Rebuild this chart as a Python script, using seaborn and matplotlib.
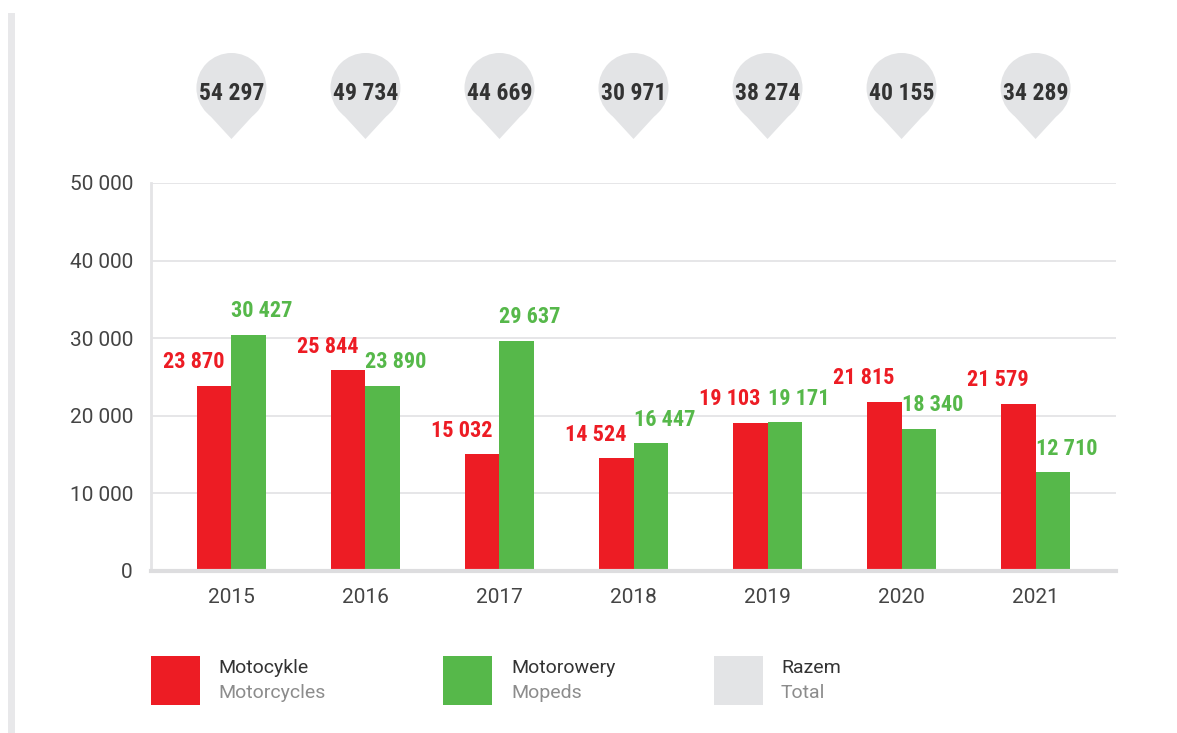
import matplotlib
matplotlib.use("Agg")
import matplotlib.pyplot as plt
from matplotlib import font_manager
from matplotlib.patches import Rectangle, Circle, Polygon
import seaborn as sns
import pandas as pd

# Data
years = ["2015", "2016", "2017", "2018", "2019", "2020", "2021"]
motorcycles = [23870, 25844, 15032, 14524, 19103, 21815, 21579]
mopeds = [30427, 23890, 29637, 16447, 19171, 18340, 12710]
totals = [54297, 49734, 44669, 30971, 38274, 40155, 34289]
y_ticks = [0, 10000, 20000, 30000, 40000, 50000]

legend_pl = ["Motocykle", "Motorowery", "Razem"]
legend_en = ["Motorcycles", "Mopeds", "Total"]

RED = "#ed1c24"
GREEN = "#56b84a"
BUBBLE = "#e3e4e6"
GRID = "#e4e4e6"
DARK = "#333333"
MUTED = "#8c8c8c"


def pick(cands):
    for c in cands:
        try:
            font_manager.findfont(font_manager.FontProperties(family=c),
                                  fallback_to_default=False)
            return c
        except Exception:
            pass
    return "DejaVu Sans"


NARROW = pick(["Roboto Condensed", "Liberation Sans Narrow", "Roboto"])
BODY = pick(["Roboto", "Lato", "DejaVu Sans"])


def fmt(v):
    return f"{v:,}".replace(",", " ")


df = pd.DataFrame({
    "year": years * 2,
    "value": motorcycles + mopeds,
    "type": ["Motocykle"] * len(years) + ["Motorowery"] * len(years),
})

sns.set_theme(style="white")
plt.rcParams["font.family"] = [BODY, "DejaVu Sans"]

W, H = 1177, 733
fig = plt.figure(figsize=(W / 100, H / 100), dpi=100)
ax = fig.add_axes([151 / W, 1 - 571 / H, (1116 - 151) / W, (571 - 183) / H])

sns.barplot(data=df, x="year", y="value", hue="type",
            palette=[RED, GREEN], width=0.51, gap=0, saturation=1,
            legend=False, ax=ax, edgecolor="none", linewidth=0)

ax.set_xlim(-0.6, len(years) - 0.4)
ax.set_ylim(0, 50000)
ax.set_yticks(y_ticks)
ax.set_yticklabels([fmt(v) for v in y_ticks], fontsize=15, color="#444444")
ax.set_xticks(range(len(years)))
ax.set_xticklabels(years, fontsize=15, color="#444444")
ax.set_xlabel("")
ax.set_ylabel("")
ax.tick_params(axis="y", length=0, pad=13)
ax.tick_params(axis="x", length=0, pad=12)
ax.yaxis.grid(True, color=GRID, linewidth=1.3)
ax.set_axisbelow(True)
for side in ["top", "right"]:
    ax.spines[side].set_visible(False)
ax.spines["left"].set_color(GRID)
ax.spines["left"].set_linewidth(2)
ax.spines["bottom"].set_color("#dddddf")
ax.spines["bottom"].set_linewidth(3)
ax.spines["bottom"].set_zorder(5)

# Value labels above bars
red_bars, green_bars = ax.containers[0], ax.containers[1]
for bar, v in zip(red_bars, motorcycles):
    ax.annotate(fmt(v), (bar.get_x() + bar.get_width(), bar.get_height()),
                xytext=(-5, 17), textcoords="offset points",
                ha="right", va="center", fontsize=16, fontweight="bold",
                color=RED, family=[NARROW, "DejaVu Sans"])
for bar, v in zip(green_bars, mopeds):
    ax.annotate(fmt(v), (bar.get_x(), bar.get_height()),
                xytext=(0, 17), textcoords="offset points",
                ha="left", va="center", fontsize=16, fontweight="bold",
                color=GREEN, family=[NARROW, "DejaVu Sans"])

# Total bubbles above each year
fig.canvas.draw()
to_fig = fig.transFigure.inverted()
for i, t in enumerate(totals):
    cx = ax.transData.transform((i, 0))[0]
    cy = H - 88
    r = 35
    circ = Circle((cx, cy), r, transform=None, facecolor=BUBBLE,
                  edgecolor="none")
    tri = Polygon([(cx - 23, cy - 26), (cx + 23, cy - 26), (cx, cy - 51)],
                  closed=True, transform=None, facecolor=BUBBLE,
                  edgecolor="none")
    fig.patches.extend([circ, tri])
    fx, fy = to_fig.transform((cx, cy - 6))
    fig.text(fx, fy, fmt(t), ha="center", va="center", fontsize=17,
             fontweight="bold", color=DARK, family=[NARROW, "DejaVu Sans"])

# Left decorative stripe
fig.patches.append(Rectangle((8 / W, 0), 7 / W, 1 - 13 / H,
                             transform=fig.transFigure, facecolor="#e8e8ea",
                             edgecolor="none"))

# Legend
swatch_x = [151, 443, 714]
text_x = [218, 511, 781]
colors = [RED, GREEN, BUBBLE]
for sx, tx, c, pl, en in zip(swatch_x, text_x, colors, legend_pl, legend_en):
    fig.patches.append(Rectangle((sx / W, 1 - 705 / H), 49 / W, 49 / H,
                                 transform=fig.transFigure, facecolor=c,
                                 edgecolor="none"))
    fig.text(tx / W, 1 - 668 / H, pl, ha="left", va="center",
             fontsize=14, color=DARK)
    fig.text(tx / W, 1 - 693 / H, en, ha="left", va="center",
             fontsize=14, color=MUTED)

fig.savefig("out.png", dpi=100, facecolor="white")
